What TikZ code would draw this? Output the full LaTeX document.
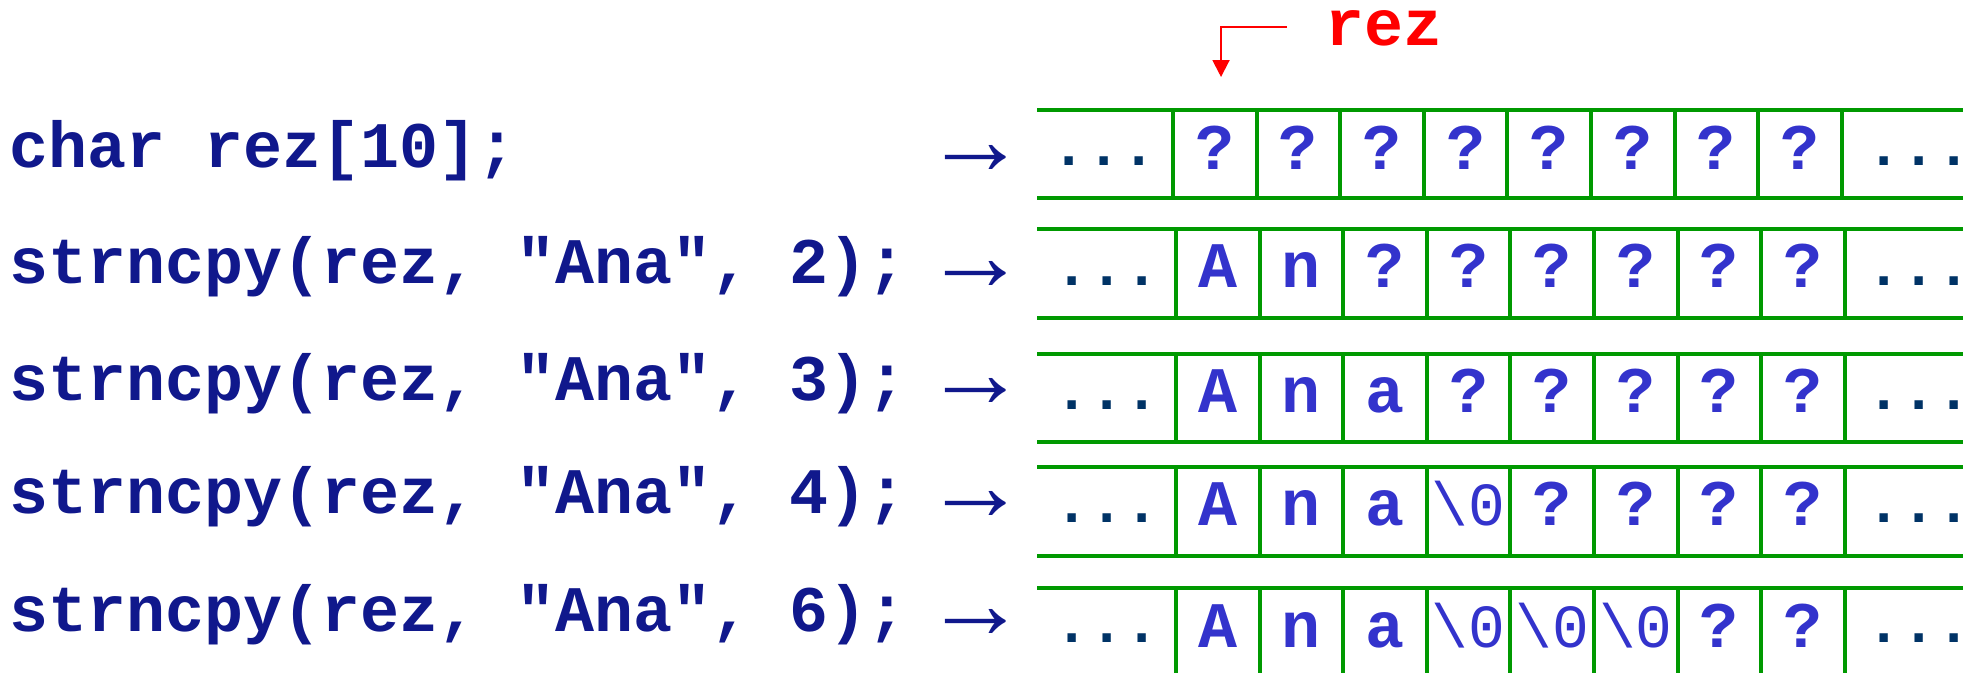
\documentclass[tikz,border=0pt]{standalone}
\usepackage{fontspec}
\setmonofont{Liberation Mono}
\newfontfamily\arrowfont{Liberation Serif}
\usetikzlibrary{arrows.meta}
\definecolor{codeblue}{RGB}{16,24,140}
\definecolor{cellblue}{RGB}{51,51,204}
\definecolor{dotblue}{RGB}{0,51,102}
\definecolor{memgreen}{RGB}{0,153,0}
\definecolor{ptrred}{RGB}{255,0,0}
% the terminating character, set lighter than the other cell contents
\newcommand\nulchar{{\fontseries{m}\fontsize{24.5}{28}\selectfont\textbackslash0}}
\begin{document}
\begin{tikzpicture}[x=0.4pt,y=-0.4pt,
  code/.style={anchor=base west, inner sep=0pt, text=codeblue,
    font=\ttfamily\bfseries\fontsize{26}{30}\selectfont},
  maparrow/.style={anchor=base, inner sep=0pt, text=codeblue,
    font=\arrowfont\fontsize{41}{44}\selectfont},
  cell/.style={anchor=base, inner sep=0pt, text=cellblue,
    font=\ttfamily\bfseries\fontsize{26}{30}\selectfont},
  dots/.style={anchor=base, inner sep=0pt, text=dotblue,
    font=\ttfamily\bfseries\fontsize{23.5}{28}\selectfont},
  memline/.style={draw=memgreen, line width=1.9pt},
  divider/.style={draw=memgreen, line width=1.6pt},
  reztext/.style={anchor=base west, inner sep=0pt, text=ptrred,
    font=\ttfamily\bfseries\fontsize{26}{30}\selectfont},
  rezptr/.style={draw=ptrred, line width=0.8pt,
    -{Triangle[length=6.8pt,width=6.8pt]}},
]
\useasboundingbox (0,0) rectangle (1963,673);

% ---- source lines and arrows ----
\node[code] (l1) at (9,167) {char rez[10];};
\node[code] (l2) at (9,283) {strncpy(rez, "Ana", 2);};
\node[code] (l3) at (9,400) {strncpy(rez, "Ana", 3);};
\node[code] (l4) at (9,513) {strncpy(rez, "Ana", 4);};
\node[code] (l5) at (9,631) {strncpy(rez, "Ana", 6);};
\foreach \r/\b in {1/167,2/283,3/400,4/513,5/631}
  \node[maparrow] (a\r) at (976,\b+7) {→};

% ---- memory rows: top, bottom, first divider, dot baseline, text baseline ----
\foreach \r/\top/\bot/\xo/\db/\tb in {1/110/198/1173/165/169,
                                      2/229/318/1176/285/287,
                                      3/354/442/1176/409/412,
                                      4/467/556/1176/522/525,
                                      5/588/673/1176/642/647}{
  \draw[memline] (1037,\top) -- (1963,\top);
  \ifnum\r<5 \draw[memline] (1037,\bot) -- (1963,\bot); \fi
  \foreach \k in {0,...,8}
    \draw[divider] ({\xo+83.6*\k},\top) -- ({\xo+83.6*\k},\bot);
  \node[dots] (dl\r) at ({\xo-69},\db) {...};
  \node[dots] (dr\r) at (1919,\db) {...};
}

% ---- cell contents ----
\foreach \t [count=\k] in {?,?,?,?,?,?,?,?}
  \node[cell] (c1-\k) at ({1173+41.8+83.6*(\k-1)},169) {\t};
\foreach \t [count=\k] in {A,n,?,?,?,?,?,?}
  \node[cell] (c2-\k) at ({1176+41.8+83.6*(\k-1)},287) {\t};
\foreach \t [count=\k] in {A,n,a,?,?,?,?,?}
  \node[cell] (c3-\k) at ({1176+41.8+83.6*(\k-1)},412) {\t};
\foreach \t [count=\k] in {A,n,a,\nulchar,?,?,?,?}
  \node[cell] (c4-\k) at ({1176+41.8+83.6*(\k-1)},525) {\t};
\foreach \t [count=\k] in {A,n,a,\nulchar,\nulchar,\nulchar,?,?}
  \node[cell] (c5-\k) at ({1176+41.8+83.6*(\k-1)},647) {\t};

% ---- pointer label ----
\node[reztext] (rez) at (1325,45) {rez};
\coordinate (rezfrom) at (1287,27);
\coordinate (reztip) at (1221,77);
\draw[rezptr] (rezfrom) -| (reztip);
\end{tikzpicture}
\end{document}
